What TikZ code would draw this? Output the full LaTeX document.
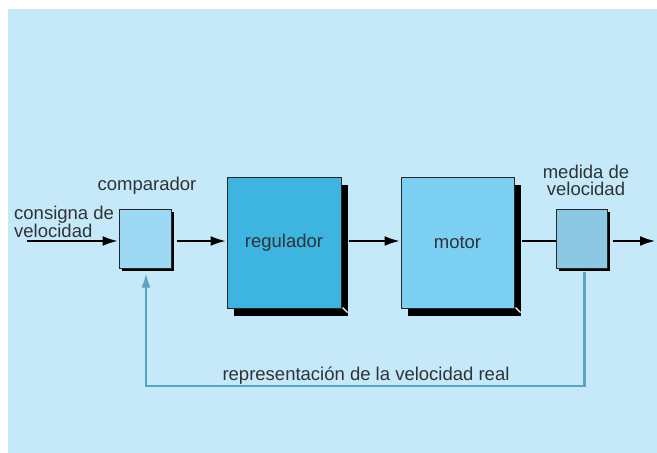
\documentclass[tikz,border=0pt]{standalone}
\usepackage{fontspec}
\setmainfont{Liberation Sans}
\usetikzlibrary{arrows.meta,shadows}
\definecolor{bgc}{HTML}{C6E9F9}
\definecolor{cmpc}{HTML}{9DD9F4}
\definecolor{regc}{HTML}{3DB5E0}
\definecolor{motc}{HTML}{7BCFF2}
\definecolor{medc}{HTML}{8CC7E4}
\definecolor{fbc}{HTML}{5AA3C2}
\definecolor{txtc}{HTML}{2E3436}
\tikzset{
  blk/.style={draw=black!85, line width=1pt, inner sep=0pt, text=txtc,
    font=\fontsize{18.5}{20}\selectfont},
  smallshadow/.style={copy shadow={shadow xshift=3pt, shadow yshift=-3pt, fill=black, draw=none}},
  bigshadow/.style={copy shadow={shadow xshift=7pt, shadow yshift=-8pt, fill=black, draw=none}},
  lbl/.style={text=txtc, font=\fontsize{18.5}{17}\selectfont, inner sep=0pt},
  sig/.style={black, line width=2.8pt, -{Latex[length=16pt,width=10pt]}},
  sigplain/.style={black, line width=2.8pt},
  fb/.style={fbc, line width=2.8pt, -{Latex[length=15pt,width=9pt]}},
  nick/.style={white, line width=1.2pt}
}
\begin{document}
\begin{tikzpicture}[x=1pt,y=-1pt]
\useasboundingbox (0,0) rectangle (657,453);
\fill[bgc] (8,9) rectangle (657,453);
% blocks
\node[blk, smallshadow, fill=cmpc, minimum width=52pt, minimum height=59pt] (cmp) at (145,238.5) {};
\node[blk, bigshadow, fill=regc, minimum width=114pt, minimum height=131pt] (reg) at (284,242.5) {regulador};
\node[blk, bigshadow, fill=motc, minimum width=113pt, minimum height=131pt] (mot) at (457.5,242.5) {motor};
\node[blk, smallshadow, fill=medc, minimum width=51pt, minimum height=59pt] (med) at (581.5,238.5) {};
% small white nicks at shadow corners
\draw[nick] ([shift={(1pt,1pt)}]reg.south east) -- ++(5pt,-5pt);
\draw[nick] ([shift={(1pt,1pt)}]mot.south east) -- ++(5pt,-5pt);
% labels
\node[lbl] (lcmp) at (147,186) {comparador};
\node[lbl, align=left, anchor=west] (lin) at (14,222) {consigna de\\velocidad};
\node[lbl, align=center] (lmed) at (586,180) {medida de\\velocidad};
\node[lbl] (lfb) at (366,376) {representación de la velocidad real};
% signal coordinates
\coordinate (inStart) at (27,241);
\coordinate (outEnd) at (656,241);
\coordinate (fbCorner) at (146,386);
% signal arrows
\draw[sig] (inStart) -- (cmp.west |- inStart);
\draw[sig] ([xshift=5pt]cmp.east |- inStart) -- (reg.west |- inStart);
\draw[sig] ([xshift=7pt]reg.east |- inStart) -- (mot.west |- inStart);
\draw[sigplain] ([xshift=7pt]mot.east |- inStart) -- (med.west |- inStart);
\draw[sig] ([xshift=5pt]med.east |- inStart) -- (outEnd);
% feedback
\draw[fb] ([shift={(3pt,-3pt)}]med.south) |- (fbCorner) -- ([yshift=-4pt]fbCorner |- cmp.south);
\end{tikzpicture}
\end{document}
